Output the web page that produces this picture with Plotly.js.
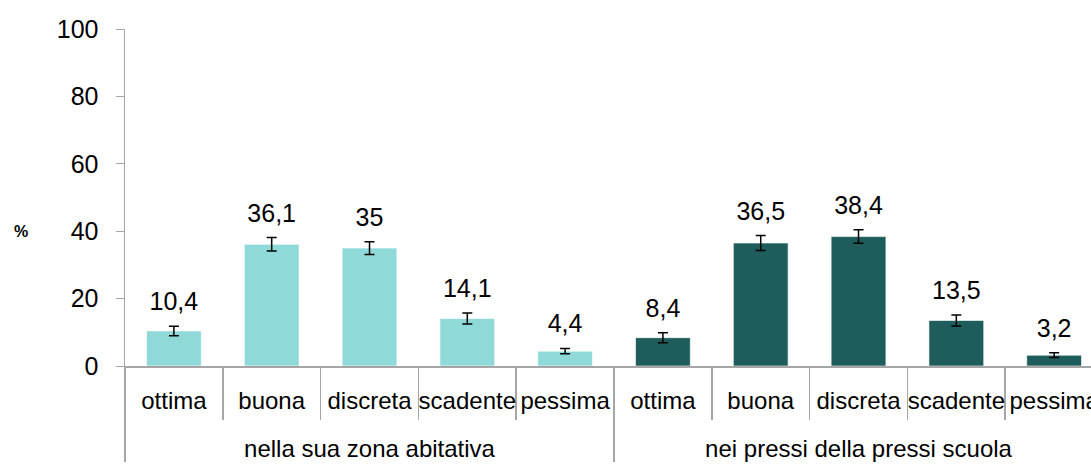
<!DOCTYPE html>
<html>
<head>
<meta charset="utf-8">
<script src="https://cdn.plot.ly/plotly-3.0.1.min.js"></script>
<style>html,body{margin:0;padding:0;background:#fff;}#chart{width:1091px;height:464px;}</style>
</head>
<body>
<div id="chart"></div>
<script>
const groups = ['nella sua zona abitativa', 'nei pressi della pressi scuola'];
const categories = ['ottima', 'buona', 'discreta', 'scadente', 'pessima'];
const zonaValues = [10.4, 36.1, 35, 14.1, 4.4];
const scuolaValues = [8.4, 36.5, 38.4, 13.5, 3.2];
const zonaErrors = [1.4, 2.0, 1.9, 1.6, 0.8];
const scuolaErrors = [1.5, 2.2, 2.0, 1.6, 0.7];
const yTicks = [0, 20, 40, 60, 80, 100];

const FONT = 'Liberation Sans, Arial, sans-serif';
const fmt = v => String(v).replace('.', ',');

// group labels are pushed one line down (as in the reference) with a leading line break
function xFor(g) { return [categories.map(() => '<br>' + g), categories]; }

function barTrace(g, vals, errs, color) {
  return {
    type: 'bar', x: xFor(g), y: vals, width: 0.56,
    marker: {color: color, line: {color: 'rgba(255,255,255,0.6)', width: 1}},
    error_y: {type: 'data', array: errs, visible: true, color: '#000', thickness: 1.5, width: 5},
    hoverinfo: 'skip', showlegend: false
  };
}
function textTrace(g, vals, errs) {
  return {
    type: 'scatter', mode: 'markers+text', x: xFor(g), y: vals.map((v, i) => v + errs[i]),
    marker: {size: 14, color: 'rgba(0,0,0,0)'},
    text: vals.map(fmt), textposition: 'top center',
    textfont: {family: FONT, size: 25, color: '#000'},
    hoverinfo: 'skip', showlegend: false
  };
}

const data = [
  barTrace(groups[0], zonaValues, zonaErrors, '#8FDAD8'),
  barTrace(groups[1], scuolaValues, scuolaErrors, '#1F5C5C'),
  textTrace(groups[0], zonaValues, zonaErrors),
  textTrace(groups[1], scuolaValues, scuolaErrors)
];

const layout = {
  width: 1091, height: 464,
  margin: {l: 125, r: 0, t: 29, b: 98},
  paper_bgcolor: '#fff', plot_bgcolor: '#fff',
  barmode: 'overlay',
  font: {family: FONT, size: 24, color: '#000'},
  xaxis: {
    type: 'multicategory', range: [-0.5, 9.377], autorange: false, automargin: false,
    showline: true, linecolor: '#A6A6A6', linewidth: 1.5,
    ticks: 'outside', ticklen: 52, tickcolor: '#A6A6A6', tickwidth: 1.5, tickangle: 0,
    ticklabelstandoff: 13,
    showdividers: true, dividercolor: '#A6A6A6', dividerwidth: 1.5,
    tickfont: {family: FONT, size: 24, color: '#000'},
    showgrid: false, zeroline: false
  },
  yaxis: {
    range: [0, 100], autorange: false, tickvals: yTicks,
    showline: true, linecolor: '#A6A6A6', linewidth: 1.5,
    ticks: 'outside', ticklen: 8, tickcolor: '#A6A6A6',
    ticklabelstandoff: 12,
    tickfont: {family: FONT, size: 25, color: '#000'},
    showgrid: false, zeroline: false
  },
  annotations: [{
    text: '<b>%</b>', xref: 'paper', yref: 'y', x: -0.108, y: 40,
    xanchor: 'center', yanchor: 'middle', showarrow: false,
    font: {family: FONT, size: 16, color: '#000'}
  }]
};

Plotly.newPlot('chart', data, layout, {displayModeBar: false, staticPlot: true});
</script>
</body>
</html>
